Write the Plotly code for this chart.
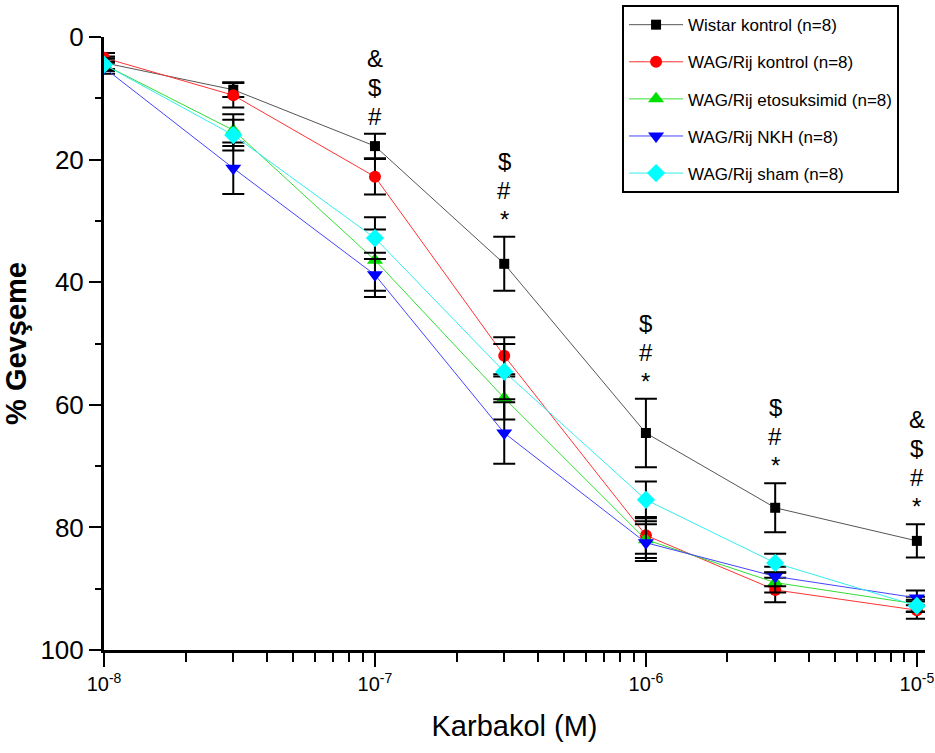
import math
import plotly.graph_objects as go

# Concentrations (M)
karbakol = [1e-8, 3e-8, 1e-7, 3e-7, 1e-6, 3e-6, 1e-5]

series_names = [
    "Wistar kontrol (n=8)",
    "WAG/Rij kontrol (n=8)",
    "WAG/Rij etosuksimid (n=8)",
    "WAG/Rij NKH (n=8)",
    "WAG/Rij sham (n=8)",
]

wistar_kontrol = [4.2, 8.6, 17.8, 37.0, 64.6, 76.8, 82.2]
wistar_kontrol_sem = [1.0, 1.2, 2.0, 4.4, 5.6, 4.0, 2.7]

wag_kontrol = [3.4, 9.5, 22.8, 52.0, 81.3, 90.2, 93.5]
wag_kontrol_sem = [0.8, 2.0, 2.9, 3.0, 3.0, 2.0, 1.4]

wag_etosuksimid = [4.5, 15.2, 36.4, 58.9, 82.0, 89.0, 92.5]
wag_etosuksimid_sem = [1.0, 2.6, 5.0, 3.5, 3.0, 1.6, 1.2]

wag_nkh = [5.0, 21.4, 38.8, 64.6, 82.5, 88.0, 91.5]
wag_nkh_sem = [1.0, 4.2, 3.6, 5.0, 3.0, 1.6, 1.2]

wag_sham = [4.5, 16.0, 32.8, 54.6, 75.5, 85.8, 92.8]
wag_sham_sem = [1.0, 2.5, 3.4, 4.5, 3.0, 1.5, 1.0]

# significance marks above Wistar kontrol points (index -> symbols bottom-up)
sig_marks = {2: ["#", "$", "&"], 3: ["*", "#", "$"], 4: ["*", "#", "$"],
             5: ["*", "#", "$"], 6: ["*", "#", "$", "&"]}

x_tickvals = [1e-8, 1e-7, 1e-6, 1e-5]
x_ticktext = ["10<sup>-8</sup>", "10<sup>-7</sup>", "10<sup>-6</sup>", "10<sup>-5</sup>"]

FONT = "Liberation Sans, Arial, sans-serif"

values = [wistar_kontrol, wag_kontrol, wag_etosuksimid, wag_nkh, wag_sham]
sems = [wistar_kontrol_sem, wag_kontrol_sem, wag_etosuksimid_sem, wag_nkh_sem, wag_sham_sem]
colors = ["#000000", "#ff0000", "#00e000", "#0000ff", "#00ffff"]
line_colors = ["#555555", "#ff3333", "#33dd33", "#4444ff", "#33eeee"]
symbols = ["square", "circle", "triangle-up", "triangle-down", "diamond"]
msizes = [10, 12, 14, 14, 14]

fig = go.Figure()
for i in range(5):
    fig.add_trace(go.Scatter(
        x=karbakol, y=values[i], name=series_names[i], mode="lines+markers",
        legendgroup=f"g{i}",
        line=dict(color=line_colors[i], width=1),
        marker=dict(color=colors[i], symbol=symbols[i], size=msizes[i], line=dict(width=0)),
        error_y=dict(type="data", array=sems[i], color="black", thickness=2, width=11, visible=True),
    ))

for idx, marks in sig_marks.items():
    top = wistar_kontrol[idx] - wistar_kontrol_sem[idx]
    for k, m in enumerate(marks):
        fig.add_annotation(
            x=math.log10(karbakol[idx]), y=top, text=m, showarrow=False,
            yanchor="bottom", yshift=2 + 29 * k,
            font=dict(family=FONT, size=24, color="black"),
        )

fig.update_layout(
    width=935, height=753,
    margin=dict(l=104, r=10, t=37, b=103, autoexpand=False),
    paper_bgcolor="white", plot_bgcolor="white",
    font=dict(family=FONT, color="black"),
    showlegend=True,
    legend=dict(
        x=0.631, y=1.052, xanchor="left", yanchor="top",
        bordercolor="black", borderwidth=2, bgcolor="white",
        font=dict(family=FONT, size=17, color="black"),
        tracegroupgap=12, itemwidth=54,
    ),
    xaxis=dict(
        type="log", range=[-8, -4.97], automargin=False,
        tickvals=x_tickvals, ticktext=x_ticktext, ticklabeloverflow="allow",
        ticks="outside", ticklen=14, tickwidth=2, tickcolor="black",
        showline=True, linecolor="black", linewidth=3,
        showgrid=False, zeroline=False,
        tickfont=dict(family=FONT, size=20, color="black"),
        minor=dict(ticks="outside", ticklen=9, tickwidth=2, tickcolor="black",
                   dtick="D1", showgrid=False),
        title=dict(text="Karbakol (M)", font=dict(family=FONT, size=29, color="black"), standoff=22),
    ),
    yaxis=dict(
        range=[100, 0], autorange=False, automargin=False,
        tick0=0, dtick=20,
        ticks="outside", ticklen=12, tickwidth=2, tickcolor="black",
        showline=True, linecolor="black", linewidth=3,
        showgrid=False, zeroline=False,
        tickfont=dict(family=FONT, size=26, color="black"),
        minor=dict(ticks="outside", ticklen=6, tickwidth=2, tickcolor="black", dtick=10, showgrid=False),
        title=dict(text="<b>% Gevşeme</b>", font=dict(family=FONT, size=29, color="black"), standoff=8),
    ),
)

fig.write_html("out.html", config={"displayModeBar": False},
               post_script="document.body.style.margin='0';document.body.style.overflow='hidden';")
